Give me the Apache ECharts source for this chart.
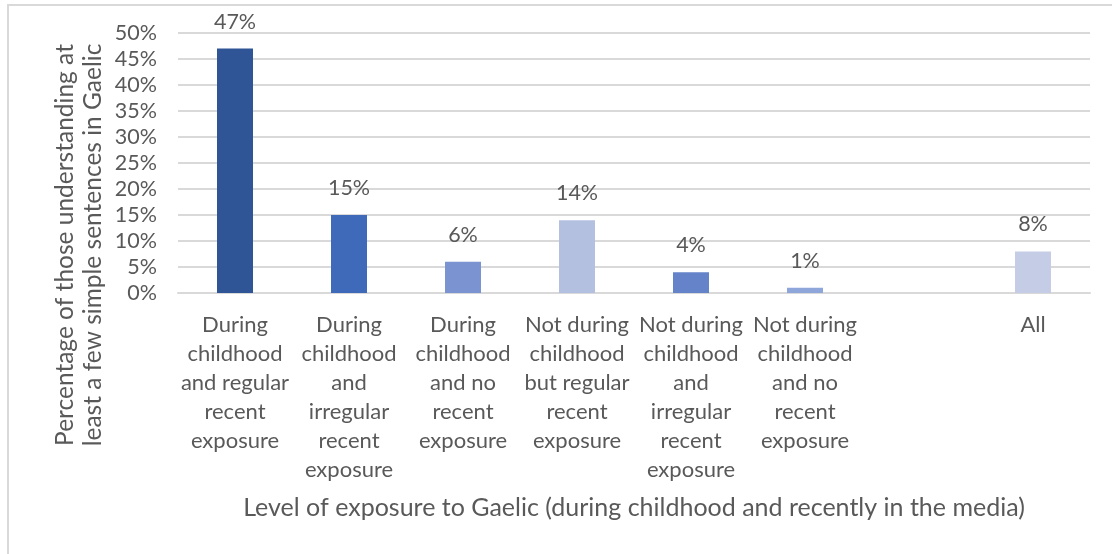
<!DOCTYPE html>
<html>
<head>
<meta charset="utf-8">
<script src="https://cdn.jsdelivr.net/npm/echarts@6/dist/echarts.min.js"></script>
<style>
  html, body { margin: 0; padding: 0; background: #fff; }
  #chart { width: 1112px; height: 554px; }
</style>
</head>
<body>
<div id="chart"></div>
<script>
// Exposure groups (tick labels already wrapped as in the original)
const categories = [
  'During\nchildhood\nand regular\nrecent\nexposure',
  'During\nchildhood\nand\nirregular\nrecent\nexposure',
  'During\nchildhood\nand no\nrecent\nexposure',
  'Not during\nchildhood\nbut regular\nrecent\nexposure',
  'Not during\nchildhood\nand\nirregular\nrecent\nexposure',
  'Not during\nchildhood\nand no\nrecent\nexposure',
  '',
  'All'
];
const values = [47, 15, 6, 14, 4, 1, null, 8];
const barColors = ['#2F5597', '#3F6AB9', '#7B93D0', '#B4C0E0', '#6483C8', '#8FA6DB', '#FFFFFF', '#C5CDE6'];
const yTicks = [0, 5, 10, 15, 20, 25, 30, 35, 40, 45, 50];

const xName = 'Level of exposure to Gaelic (during childhood and recently in the media)';
const yName = 'Percentage of those understanding at\nleast a few simple sentences in Gaelic';

const FONT = 'Lato, "Open Sans", sans-serif';
const TEXT = '#595959';
const GRID = '#D9D9D9';

const chart = echarts.init(document.getElementById('chart'));

chart.setOption({
  animation: false,
  textStyle: { fontFamily: FONT, color: TEXT },
  grid: { left: 178, right: 22, top: 33, bottom: 261 },
  graphic: [
    {
      type: 'rect',
      shape: { x: 8, y: 5, width: 1200, height: 600 },
      style: { fill: 'none', stroke: GRID, lineWidth: 2 },
      silent: true
    },
    {
      type: 'text',
      x: 79,
      y: 245,
      rotation: Math.PI / 2,
      style: {
        text: yName,
        font: '24.5px ' + FONT,
        fill: TEXT,
        align: 'center',
        verticalAlign: 'middle',
        lineHeight: 28
      }
    }
  ],
  xAxis: {
    type: 'category',
    data: categories,
    name: xName,
    nameLocation: 'middle',
    nameGap: 202,
    nameTextStyle: { fontSize: 25, color: TEXT, fontFamily: FONT },
    axisLine: { show: true, lineStyle: { color: GRID, width: 2 } },
    axisTick: { show: false },
    axisLabel: {
      interval: 0,
      fontSize: 22,
      lineHeight: 29,
      color: TEXT,
      margin: 17,
      verticalAlign: 'top'
    }
  },
  yAxis: {
    type: 'value',
    min: 0,
    max: 50,
    interval: 5,
    axisLine: { show: false },
    axisTick: { show: false },
    splitLine: { lineStyle: { color: GRID, width: 2 } },
    axisLabel: {
      fontSize: 21.5,
      color: TEXT,
      margin: 21,
      formatter: (v) => (yTicks.includes(v) ? v + '%' : '')
    }
  },
  series: [
    {
      type: 'bar',
      barWidth: 36,
      data: values.map((v, i) => ({
        value: v,
        itemStyle: { color: barColors[i] }
      })),
      label: {
        show: true,
        position: 'top',
        distance: 16,
        fontSize: 21.5,
        color: TEXT,
        formatter: (p) => (p.value == null ? '' : p.value + '%')
      }
    }
  ]
});
</script>
</body>
</html>
